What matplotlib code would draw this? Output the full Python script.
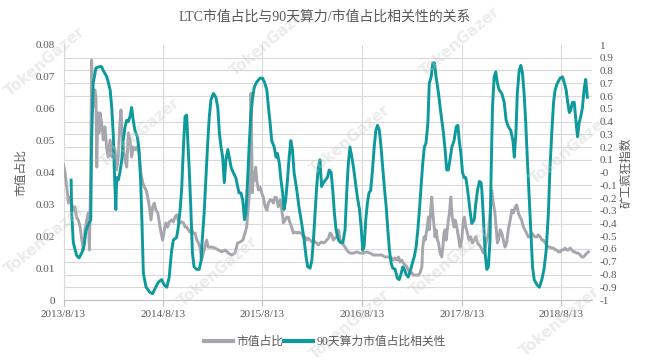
import matplotlib
matplotlib.use("Agg")
import matplotlib.pyplot as plt
import matplotlib.ticker as mticker
import numpy as np
import pandas as pd

plt.rcParams['font.family'] = ['Liberation Serif', 'Noto Sans CJK SC', 'DejaVu Sans']

title = "LTC市值占比与90天算力/市值占比相关性的关系"
left_label = "市值占比"
right_label = "矿工疯狂指数"
series_names = ["市值占比", "90天算力市值占比相关性"]
start_date = "2013-08-13"
tick_dates = ["2013-08-13", "2014-08-13", "2015-08-13", "2016-08-13", "2017-08-13", "2018-08-13"]
tick_labels = ["2013/8/13", "2014/8/13", "2015/8/13", "2016/8/13", "2017/8/13", "2018/8/13"]

# Market share (days since 2013-08-13, value)
share_days = [0, 6, 12, 18, 24, 30, 36, 42, 48, 54, 61, 67, 73, 79, 85, 91, 95, 100, 103, 109,
              115, 119, 122, 126, 130, 134, 140, 146, 152, 159, 164, 171, 177, 183, 189, 195, 201, 207, 211, 214,
              219, 226, 232, 238, 244, 250, 256, 262, 269, 277, 284, 291, 297, 303, 309, 315, 321, 327, 333, 339,
              346, 352, 358, 364, 370, 376, 382, 388, 397, 403, 409, 415, 421, 428, 434, 440, 446, 452, 458, 464,
              470, 476, 483, 489, 495, 501, 507, 513, 519, 525, 531, 544, 556, 568, 581, 593, 605, 617, 629, 639,
              648, 658, 666, 672, 678, 684, 688, 693, 697, 700, 705, 709, 715, 721, 727, 733, 740, 746, 752, 758,
              764, 770, 776, 782, 788, 795, 801, 807, 813, 819, 825, 831, 837, 843, 850, 856, 862, 868, 874, 880,
              886, 893, 898, 905, 911, 917, 923, 929, 935, 941, 947, 953, 960, 966, 972, 978, 984, 990, 996, 1003,
              1009, 1015, 1021, 1027, 1033, 1039, 1045, 1051, 1064, 1076, 1088, 1100, 1113, 1125, 1137, 1149, 1168, 1180, 1192, 1204,
              1210, 1217, 1223, 1229, 1235, 1241, 1247, 1253, 1260, 1265, 1272, 1278, 1284, 1290, 1296, 1302, 1308, 1315, 1318, 1323,
              1327, 1333, 1339, 1342, 1348, 1351, 1355, 1360, 1363, 1367, 1372, 1376, 1382, 1388, 1392, 1396, 1400, 1404, 1409, 1412,
              1416, 1421, 1425, 1428, 1433, 1437, 1443, 1449, 1455, 1461, 1467, 1471, 1476, 1482, 1488, 1494, 1500, 1507, 1513, 1519,
              1525, 1531, 1535, 1541, 1547, 1553, 1559, 1565, 1571, 1577, 1583, 1587, 1592, 1596, 1602, 1608, 1614, 1620, 1626, 1632,
              1639, 1645, 1651, 1657, 1663, 1669, 1675, 1681, 1687, 1693, 1699, 1705, 1712, 1718, 1724, 1730, 1737, 1742, 1749, 1755,
              1761, 1767, 1773, 1779, 1785, 1791, 1798, 1804, 1810, 1816, 1822, 1828, 1834, 1840, 1846, 1852, 1859, 1865, 1871, 1877,
              1883, 1889, 1896, 1902, 1908, 1914, 1920, 1926]
share_vals = [0.0424, 0.0398, 0.0354, 0.0304, 0.0323, 0.0304, 0.0282, 0.0292, 0.0260, 0.0251, 0.0229, 0.0188, 0.0157, 0.0220, 0.0251, 0.0273, 0.0157, 0.0398, 0.0753, 0.0605,
              0.0659, 0.0637, 0.0417, 0.0587, 0.0524, 0.0587, 0.0555, 0.0502, 0.0543, 0.0471, 0.0449, 0.0502, 0.0449, 0.0480, 0.0471, 0.0408, 0.0449, 0.0555, 0.0596, 0.0543,
              0.0480, 0.0439, 0.0417, 0.0524, 0.0502, 0.0449, 0.0480, 0.0471, 0.0480, 0.0461, 0.0398, 0.0367, 0.0354, 0.0345, 0.0323, 0.0292, 0.0251, 0.0292, 0.0304, 0.0282,
              0.0273, 0.0242, 0.0210, 0.0188, 0.0220, 0.0242, 0.0229, 0.0245, 0.0251, 0.0245, 0.0260, 0.0267, 0.0251, 0.0242, 0.0245, 0.0242, 0.0229, 0.0229, 0.0220, 0.0213,
              0.0220, 0.0210, 0.0210, 0.0188, 0.0179, 0.0166, 0.0125, 0.0147, 0.0166, 0.0188, 0.0166, 0.0166, 0.0163, 0.0157, 0.0151, 0.0157, 0.0147, 0.0141, 0.0147, 0.0179,
              0.0182, 0.0188, 0.0210, 0.0229, 0.0292, 0.0354, 0.0649, 0.0336, 0.0398, 0.0376, 0.0417, 0.0376, 0.0345, 0.0354, 0.0336, 0.0323, 0.0292, 0.0282, 0.0304, 0.0314,
              0.0314, 0.0304, 0.0323, 0.0320, 0.0292, 0.0314, 0.0282, 0.0242, 0.0251, 0.0260, 0.0260, 0.0242, 0.0229, 0.0210, 0.0213, 0.0210, 0.0213, 0.0210, 0.0210, 0.0198,
              0.0198, 0.0188, 0.0194, 0.0188, 0.0182, 0.0188, 0.0182, 0.0179, 0.0173, 0.0179, 0.0182, 0.0179, 0.0182, 0.0188, 0.0194, 0.0210, 0.0204, 0.0188, 0.0194, 0.0198,
              0.0220, 0.0188, 0.0179, 0.0173, 0.0166, 0.0157, 0.0151, 0.0147, 0.0147, 0.0151, 0.0147, 0.0147, 0.0151, 0.0147, 0.0141, 0.0141, 0.0141, 0.0135, 0.0135, 0.0132,
              0.0125, 0.0132, 0.0125, 0.0135, 0.0119, 0.0125, 0.0116, 0.0110, 0.0104, 0.0094, 0.0085, 0.0085, 0.0078, 0.0078, 0.0078, 0.0078, 0.0085, 0.0104, 0.0166, 0.0198,
              0.0188, 0.0220, 0.0260, 0.0220, 0.0292, 0.0323, 0.0273, 0.0229, 0.0198, 0.0220, 0.0188, 0.0179, 0.0147, 0.0135, 0.0166, 0.0210, 0.0220, 0.0188, 0.0229, 0.0251,
              0.0273, 0.0323, 0.0273, 0.0251, 0.0229, 0.0251, 0.0229, 0.0198, 0.0166, 0.0188, 0.0251, 0.0260, 0.0229, 0.0210, 0.0188, 0.0198, 0.0179, 0.0188, 0.0198, 0.0179,
              0.0173, 0.0166, 0.0157, 0.0147, 0.0166, 0.0188, 0.0210, 0.0273, 0.0345, 0.0304, 0.0273, 0.0229, 0.0179, 0.0188, 0.0220, 0.0210, 0.0188, 0.0166, 0.0179, 0.0220,
              0.0251, 0.0282, 0.0273, 0.0292, 0.0298, 0.0273, 0.0260, 0.0251, 0.0229, 0.0220, 0.0210, 0.0198, 0.0198, 0.0210, 0.0204, 0.0198, 0.0198, 0.0204, 0.0198, 0.0188,
              0.0188, 0.0179, 0.0173, 0.0166, 0.0166, 0.0163, 0.0163, 0.0157, 0.0157, 0.0151, 0.0151, 0.0157, 0.0157, 0.0163, 0.0157, 0.0157, 0.0163, 0.0157, 0.0151, 0.0151,
              0.0147, 0.0147, 0.0141, 0.0135, 0.0135, 0.0141, 0.0147, 0.0151]

# 90-day hashrate / market-share correlation (days since 2013-08-13, value)
corr_days = [28, 30, 36, 48, 57, 67, 75, 83, 91, 100, 103, 109, 119, 131, 140, 146, 159, 171, 177, 183,
             186, 192, 195, 201, 207, 214, 219, 226, 232, 238, 244, 250, 256, 262, 271, 277, 283, 288, 293, 303,
             317, 327, 336, 348, 360, 369, 379, 388, 391, 397, 403, 415, 421, 428, 434, 440, 446, 452, 456, 461,
             467, 473, 479, 489, 498, 505, 509, 516, 522, 529, 535, 541, 550, 559, 566, 572, 578, 584, 590, 596,
             603, 608, 615, 623, 632, 639, 644, 651, 658, 664, 669, 675, 681, 687, 693, 700, 709, 721, 730, 737,
             746, 752, 758, 764, 773, 780, 785, 792, 798, 804, 809, 815, 821, 828, 834, 840, 846, 856, 864, 874,
             883, 890, 896, 905, 911, 917, 923, 929, 935, 941, 947, 953, 961, 968, 975, 982, 988, 994, 1000, 1009,
             1017, 1025, 1033, 1039, 1045, 1051, 1058, 1064, 1070, 1078, 1086, 1092, 1098, 1103, 1109, 1115, 1121, 1127, 1133, 1140,
             1146, 1152, 1159, 1165, 1171, 1177, 1184, 1190, 1196, 1202, 1208, 1217, 1225, 1232, 1239, 1245, 1251, 1257, 1265, 1274,
             1280, 1287, 1294, 1300, 1306, 1312, 1318, 1324, 1330, 1337, 1342, 1349, 1355, 1361, 1367, 1376, 1382, 1388, 1394, 1400,
             1406, 1412, 1418, 1425, 1433, 1441, 1447, 1452, 1458, 1464, 1470, 1476, 1483, 1491, 1498, 1507, 1513, 1519, 1526, 1532,
             1535, 1541, 1547, 1553, 1559, 1565, 1569, 1574, 1580, 1586, 1592, 1598, 1608, 1617, 1624, 1632, 1641, 1649, 1654, 1660,
             1665, 1672, 1678, 1684, 1690, 1696, 1702, 1708, 1715, 1721, 1727, 1737, 1746, 1755, 1763, 1771, 1779, 1785, 1792, 1798,
             1804, 1812, 1822, 1831, 1838, 1844, 1850, 1856, 1861, 1867, 1874, 1880, 1886, 1892, 1898, 1904, 1910, 1916, 1922]
corr_vals = [-0.06, -0.32, -0.55, -0.65, -0.67, -0.63, -0.58, -0.45, -0.41, -0.37, 0.25, 0.70, 0.82, 0.83, 0.83, 0.80, 0.75, 0.65, 0.51, 0.28,
             0.04, -0.29, -0.04, -0.06, 0.00, 0.10, 0.25, 0.36, 0.41, 0.40, 0.44, 0.51, 0.41, 0.33, 0.28, 0.18, -0.06, -0.40, -0.79, -0.90,
             -0.94, -0.95, -0.91, -0.86, -0.84, -0.88, -0.90, -0.82, -0.74, -0.61, -0.53, -0.51, -0.43, -0.29, -0.11, 0.20, 0.44, 0.45, 0.25, 0.04,
             -0.27, -0.63, -0.74, -0.76, -0.76, -0.69, -0.53, -0.32, -0.06, 0.23, 0.44, 0.57, 0.62, 0.59, 0.51, 0.31, 0.20, 0.12, -0.08, 0.10,
             0.18, 0.12, 0.04, 0.00, -0.04, -0.11, -0.16, -0.16, -0.22, -0.37, -0.32, -0.08, 0.20, 0.44, 0.57, 0.67, 0.71, 0.74, 0.74, 0.71,
             0.65, 0.51, 0.39, 0.25, 0.20, 0.12, 0.15, 0.07, -0.06, -0.16, -0.29, -0.22, -0.08, 0.12, 0.25, 0.18, 0.00, -0.14, -0.27, -0.40,
             -0.53, -0.66, -0.74, -0.75, -0.69, -0.53, -0.32, -0.11, 0.04, 0.10, -0.11, -0.08, -0.06, -0.04, 0.02, 0.00, -0.14, -0.32, -0.45, -0.53,
             -0.55, -0.55, -0.45, -0.16, 0.07, 0.20, 0.12, 0.04, -0.06, -0.19, -0.29, -0.43, -0.61, -0.58, -0.37, -0.24, -0.16, -0.14, 0.00, 0.20,
             0.33, 0.37, 0.33, 0.20, 0.04, -0.11, -0.27, -0.45, -0.61, -0.71, -0.75, -0.76, -0.83, -0.84, -0.79, -0.74, -0.76, -0.80, -0.82, -0.76,
             -0.71, -0.66, -0.58, -0.45, -0.29, -0.11, 0.07, 0.20, 0.23, 0.39, 0.70, 0.75, 0.86, 0.86, 0.75, 0.62, 0.51, 0.41, 0.31, 0.18,
             0.02, 0.02, 0.10, 0.20, 0.25, 0.36, 0.37, 0.25, 0.15, 0.00, -0.04, -0.04, -0.14, -0.29, -0.40, -0.37, -0.24, -0.14, -0.07, -0.08,
             -0.14, -0.37, -0.63, -0.76, -0.74, -0.53, 0.00, 0.51, 0.75, 0.79, 0.70, 0.65, 0.62, 0.55, 0.41, 0.36, 0.33, 0.25, 0.12, 0.31,
             0.62, 0.80, 0.84, 0.78, 0.62, 0.39, 0.10, -0.16, -0.47, -0.74, -0.84, -0.88, -0.90, -0.84, -0.76, -0.61, -0.32, 0.04, 0.33, 0.55,
             0.65, 0.70, 0.74, 0.75, 0.70, 0.65, 0.55, 0.47, 0.49, 0.55, 0.55, 0.41, 0.28, 0.39, 0.44, 0.51, 0.65, 0.73, 0.59]

grey = '#A6A6AE'
teal = '#0E999C'
txt = '#595959'
gridc = '#D9D9D9'

t0 = pd.Timestamp(start_date)
share_dates = t0 + pd.to_timedelta(share_days, unit='D')
corr_dates = t0 + pd.to_timedelta(corr_days, unit='D')

fig = plt.figure(figsize=(6.5, 3.62), dpi=100)
ax = fig.add_axes([63.5 / 650, 1 - 300 / 362, (591.7 - 63.5) / 650, 255 / 362])
ax2 = ax.twinx()

ax.plot(share_dates, share_vals, color=grey, lw=2.1, solid_joinstyle='round', zorder=3)
ax2.plot(corr_dates, corr_vals, color=teal, lw=2.1, solid_joinstyle='round', zorder=3)

ax.set_xlim(t0, t0 + pd.Timedelta(days=1938))
ax.set_ylim(0, 0.08)
ax2.set_ylim(-1, 1)

tick_ts = pd.to_datetime(tick_dates)
ax.set_xticks(tick_ts)
ax.set_xticklabels(tick_labels)

ax.set_yticks(np.arange(0, 0.0801, 0.01))
ax.yaxis.set_major_formatter(mticker.FuncFormatter(lambda v, p: f"{round(v, 2):g}"))
ax.set_yticks(np.arange(0, 0.0801, 0.004), minor=True)
ax.grid(False)
ax.grid(which='minor', axis='y', color=gridc, lw=0.8)
ax.grid(which='major', axis='x', color=gridc, lw=0.8)
ax.set_axisbelow(True)

ax2.set_yticks(np.arange(-1, 1.001, 0.1))
ax2.yaxis.set_major_formatter(mticker.FuncFormatter(lambda v, p: f"{round(v, 1):g}".replace('−', '-')))
ax2.grid(False)

for a in (ax, ax2):
    for s in ('top', 'right'):
        a.spines[s].set_visible(False)
ax2.spines['left'].set_visible(False)
ax2.spines['bottom'].set_visible(False)
ax.spines['left'].set_color(gridc)
ax.spines['bottom'].set_color('#BFBFBF')

ax.tick_params(axis='y', which='both', length=0, labelsize=8, labelcolor=txt, pad=6)
ax.tick_params(axis='x', length=4, color='#BFBFBF', labelsize=8, labelcolor=txt, pad=3)
ax2.tick_params(axis='y', length=0, labelsize=8, labelcolor=txt, pad=6)

ax.set_ylabel(left_label, fontsize=8.5, color=txt, labelpad=6)
ax2.set_ylabel(right_label, fontsize=8.5, color=txt, labelpad=2)

fig.text(0.5, 1 - 17 / 362, title, ha='center', va='center', fontsize=10, color=txt)

handles = [plt.Line2D([], [], color=grey, lw=3), plt.Line2D([], [], color=teal, lw=3)]
fig.legend(handles, series_names, loc='center', bbox_to_anchor=(0.5, 1 - 342 / 362), ncol=2,
           frameon=False, fontsize=8.5, labelcolor=txt, handlelength=2.4, handletextpad=0.3,
           columnspacing=0.1)

# watermarks (kept inside the canvas)
wm = [(45, 62), (140, 133), (270, 42), (350, 140), (460, 42), (570, 150), (45, 240), (218, 272),
      (450, 262), (560, 322), (350, 325)]
for (px, py) in wm:
    fig.text(px / 650, 1 - py / 362, "TokenGazer", rotation=40, ha='center', va='center',
             fontsize=11, fontweight='bold', family=['DejaVu Sans'], color='#C8C8C8', alpha=0.35, zorder=1)

fig.savefig("out.png", dpi=100)
